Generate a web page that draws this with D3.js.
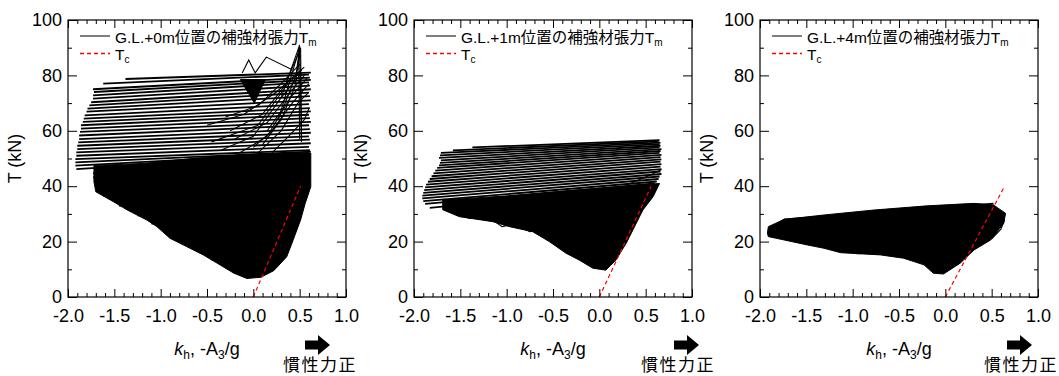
<!DOCTYPE html>
<html>
<head>
<meta charset="utf-8">
<script src="https://cdn.jsdelivr.net/npm/d3@7"></script>
<style>
	body{margin:0;background:#fff;}
	text{font-family:"Liberation Sans",Arial,"Noto Sans CJK JP",sans-serif;fill:#000;}
</style>
</head>
<body>
<script>
// axis ticks
var xTicks = [-2.0, -1.5, -1.0, -0.5, 0.0, 0.5, 1.0];
var xTickLabels = ["-2.0", "-1.5", "-1.0", "-0.5", "0.0", "0.5", "1.0"];
var xMinor = [-1.9,-1.8,-1.7,-1.6,-1.4,-1.3,-1.2,-1.1,-0.9,-0.8,-0.7,-0.6,-0.4,-0.3,-0.2,-0.1,0.1,0.2,0.3,0.4,0.6,0.7,0.8,0.9];
var tTicks = [0, 20, 40, 60, 80, 100];
var tMinor = [10, 30, 50, 70, 90];

// legend texts
var depthLabels = ["G.L.+0m位置の補強材張力T", "G.L.+1m位置の補強材張力T", "G.L.+4m位置の補強材張力T"];

// Tc lines (kh, T)
var tc0 = [[0.0, 0.0], [0.51, 40.0]];
var tc1 = [[0.0, 0.0], [0.56, 40.0]];
var tc4 = [[0.0, 0.0], [0.64, 40.0]];

// dense cores of the loops (kh, T)
var core0 = [[-1.72,47.5],[-1.2,48.2],[-0.5,50.5],[0.0,51.5],[0.62,52.0],[0.62,39.8],[0.56,33.8],[0.51,27.8],[0.43,20.6],[0.36,14.5],[0.22,9.5],[0.08,7.1],[-0.07,6.7],[-0.21,8.6],[-0.39,12.2],[-0.54,15.2],[-0.72,18.2],[-0.90,21.2],[-1.04,25.4],[-1.15,27.8],[-1.36,31.4],[-1.51,34.4],[-1.70,38.0],[-1.72,41.6]];
var core1 = [[-1.69,35.0],[-1.0,36.5],[-0.3,38.5],[0.3,40.0],[0.65,41.0],[0.58,36.2],[0.47,31.4],[0.38,25.4],[0.29,19.4],[0.18,13.4],[0.07,9.7],[-0.07,10.4],[-0.22,13.4],[-0.36,15.8],[-0.54,20.0],[-0.72,23.6],[-0.97,25.4],[-1.15,27.2],[-1.51,29.0],[-1.69,31.5]];
var core4 = [[-1.92,23.0],[-1.91,25.4],[-1.74,28.0],[-1.31,29.6],[-0.77,31.4],[-0.20,32.9],[0.31,33.8],[0.52,33.2],[0.65,30.2],[0.63,26.6],[0.56,23.6],[0.49,20.6],[0.31,17.0],[0.16,12.2],[-0.02,8.3],[-0.13,8.6],[-0.23,11.6],[-0.45,14.0],[-0.70,15.2],[-1.13,16.0],[-1.31,17.6],[-1.49,18.8],[-1.74,20.6],[-1.91,21.8]];

// small filled pockets (kh, T)
var pockets0 = [[[-0.14,78.5],[0.13,78.5],[0.01,70.0]]];
var pockets1 = [];
var pockets4 = [];

// loop strokes: kh left, T left, kh right, T right
var sweeps0 = [
	[-1.38,78.7,0.62,81.0],[-1.62,77.0,0.60,80.3],[-1.73,75.0,0.61,79.2],[-1.72,74.0,0.62,78.4],
	[-1.73,72.8,0.60,77.5],[-1.73,71.6,0.61,76.3],[-1.75,70.3,0.62,75.0],[-1.77,69.2,0.60,73.8],
	[-1.79,68.0,0.61,72.5],[-1.80,66.9,0.62,71.0],[-1.82,65.6,0.60,69.6],[-1.83,64.4,0.61,68.2],
	[-1.84,63.2,0.62,67.0],[-1.86,62.0,0.60,65.8],[-1.86,60.8,0.61,64.6],[-1.87,59.6,0.62,63.2],
	[-1.88,58.3,0.60,62.0],[-1.88,57.0,0.61,60.6],[-1.89,55.8,0.62,59.3],[-1.90,54.6,0.60,58.0],
	[-1.90,53.4,0.61,56.8],[-1.91,52.2,0.62,55.5],[-1.91,51.0,0.60,54.2],[-1.92,49.8,0.61,53.0],
	[-1.92,48.6,0.62,52.5],[-1.92,47.4,0.60,52.0],[-1.91,46.2,0.61,51.5],[-1.73,44.6,0.60,51.0],
	[-1.73,43.2,0.62,50.5],[-1.72,41.8,0.60,50.0],[-1.70,40.2,0.61,49.5],
	[-1.62,36.5,-1.0,37.0],[-1.45,33.0,-0.8,33.5],[-1.25,29.5,-0.6,30.0],[-1.10,26.5,-0.5,27.0],
	[-0.95,23.5,-0.4,24.0],[-0.82,21.0,-0.3,21.5],[-0.75,19.5,-0.3,20.0],[-0.60,16.5,-0.2,17.0],
	[-0.45,13.5,-0.1,14.0]
];
var sweeps1 = [
	[-1.37,54.0,0.65,56.6],[-1.58,52.9,0.64,56.2],[-1.71,52.0,0.66,55.7],[-1.72,51.1,0.65,55.2],
	[-1.73,50.2,0.66,54.6],[-1.71,49.3,0.65,54.0],[-1.72,48.4,0.67,53.4],[-1.73,47.5,0.66,52.7],
	[-1.75,46.6,0.65,52.0],[-1.77,45.6,0.67,51.3],[-1.79,44.6,0.66,50.5],[-1.81,43.6,0.67,49.7],
	[-1.83,42.6,0.66,48.9],[-1.85,41.6,0.67,48.0],[-1.87,40.6,0.66,47.1],[-1.88,39.6,0.67,46.2],
	[-1.89,38.6,0.66,45.3],[-1.90,37.6,0.67,44.4],[-1.91,36.6,0.65,43.5],[-1.91,35.6,0.64,42.6],
	[-1.90,34.6,0.62,41.7],[-1.88,33.6,0.60,41.0],[-1.83,32.2,0.55,40.0]
];
var sweeps4 = [
	[-1.92,23.0,-1.74,28.0],[-1.74,28.0,0.52,33.7],[-1.85,24.5,0.60,31.0],[-1.80,22.5,0.62,28.5]
];

// irregular branches (kh, T)
var branches0 = [
	[[-0.45,56],[0.05,62],[0.35,76],[0.52,82]],
	[[-0.35,53],[0.0,58],[0.3,72],[0.5,80]],
	[[-0.25,60],[0.1,66],[0.38,78],[0.55,83]],
	[[-0.15,52],[0.15,58],[0.4,72],[0.58,79]],
	[[-0.3,65],[0.05,69],[0.3,77],[0.5,84]],
	[[0.0,54],[0.2,60],[0.42,70],[0.6,77]],
	[[-0.5,62],[-0.1,66],[0.25,74],[0.45,80]],
	[[0.05,52],[0.3,60],[0.48,70],[0.6,74]],
	[[-0.2,57],[0.15,63],[0.4,74],[0.55,80]],
	[[0.1,55],[0.3,64],[0.45,76],[0.5,88]],
	[[0.15,60],[0.32,68],[0.46,80],[0.5,90]],
	[[0.2,52],[0.38,58],[0.55,64],[0.6,68]],
	[[0.48,82],[0.5,90.6],[0.52,56]],
	[[0.49,90],[0.5,57]],
	[[0.51,90],[0.52,58]],
	[[0.5,91],[0.3,72]],
	[[0.5,90],[0.27,64]],
	[[0.5,89],[0.36,78]],
	[[-0.12,80.9],[-0.05,85.6],[0.02,80.9],[0.14,86.6],[0.42,82.0]]
];
var branches1 = [
	[[-1.51,29.6],[-1.40,28.4],[-1.33,29.0]],
	[[-1.15,27.8],[-1.05,25.4],[-0.94,26.2]],
	[[-0.90,26.0],[-0.75,23.6],[-0.62,24.4]],
	[[0.30,40.5],[0.55,44.0],[0.67,46.0]]
];
var branches4 = [
	[[-1.90,22.0],[-1.55,20.2],[-1.45,18.8],[-1.10,18.2]],
	[[-1.50,21.0],[-1.30,17.8],[-0.70,15.4]],
	[[-1.15,17.5],[-0.95,15.6],[-0.40,16.5]],
	[[0.50,21.0],[0.60,24.5],[0.64,28.0]]
];

window.onload = function(){
	var w = 1059, h = 376;
	var pw = 278, top = 20, bottom = 297;

	var svg = d3.select("body")
		.append("svg")
		.attr("width", w)
		.attr("height", h)
		.attr("class", "container");

	var panels = [
		{left: 68, label: depthLabels[0], core: core0, pockets: pockets0, sweeps: sweeps0, branches: branches0, tc: tc0, arrowX: 305, noteX: 320},
		{left: 414, label: depthLabels[1], core: core1, pockets: pockets1, sweeps: sweeps1, branches: branches1, tc: tc1, arrowX: 674, noteX: 678},
		{left: 760, label: depthLabels[2], core: core4, pockets: pockets4, sweeps: sweeps4, branches: branches4, tc: tc4, arrowX: 1007, noteX: 1021}
	];

	panels.forEach(function(p){
		var x = d3.scaleLinear()
			.domain([-2, 1])
			.range([p.left, p.left + pw]);
		var y = d3.scaleLinear()
			.domain([0, 100])
			.range([bottom, top]);

		var g = svg.append("g")
			.attr("class", "panel");

		var line = d3.line()
			.x(function(d){ return x(d[0]); })
			.y(function(d){ return y(d[1]); });

		//dense part of the loops
		g.selectAll(".core")
			.data([p.core].concat(p.pockets))
			.enter()
			.append("path")
			.attr("class", "core")
			.attr("d", function(d){ return line(d) + "Z"; })
			.style("fill", "#000")
			.style("stroke", "#000")
			.style("stroke-width", 1);

		g.selectAll(".sweep")
			.data(p.sweeps)
			.enter()
			.append("line")
			.attr("class", "sweep")
			.attr("x1", function(d){ return x(d[0]); })
			.attr("y1", function(d){ return y(d[1]); })
			.attr("x2", function(d){ return x(d[2]); })
			.attr("y2", function(d){ return y(d[3]); })
			.style("stroke", "#000")
			.style("stroke-width", 1.8);

		g.selectAll(".branch")
			.data(p.branches)
			.enter()
			.append("path")
			.attr("class", "branch")
			.attr("d", line)
			.style("fill", "none")
			.style("stroke", "#000")
			.style("stroke-width", 1.1);

		//Tc
		g.append("path")
			.datum(p.tc)
			.attr("class", "tc")
			.attr("d", line)
			.style("fill", "none")
			.style("stroke", "#ff0000")
			.style("stroke-width", 1.2)
			.style("stroke-dasharray", "4,3");

		//axes with inward ticks
		var axes = [
			{ax: d3.axisBottom(x).tickValues(xTicks).tickSize(-8).tickPadding(12).tickFormat(function(d, i){ return xTickLabels[i]; }), t: "translate(0," + bottom + ")"},
			{ax: d3.axisBottom(x).tickValues(xMinor).tickSize(-4).tickFormat(""), t: "translate(0," + bottom + ")"},
			{ax: d3.axisTop(x).tickValues(xTicks).tickSize(-8).tickFormat(""), t: "translate(0," + top + ")"},
			{ax: d3.axisTop(x).tickValues(xMinor).tickSize(-4).tickFormat(""), t: "translate(0," + top + ")"},
			{ax: d3.axisLeft(y).tickValues(tTicks).tickSize(-9).tickPadding(6), t: "translate(" + p.left + ",0)"},
			{ax: d3.axisLeft(y).tickValues(tMinor).tickSize(-4).tickFormat(""), t: "translate(" + p.left + ",0)"},
			{ax: d3.axisRight(y).tickValues(tTicks).tickSize(-9).tickFormat(""), t: "translate(" + (p.left + pw) + ",0)"},
			{ax: d3.axisRight(y).tickValues(tMinor).tickSize(-4).tickFormat(""), t: "translate(" + (p.left + pw) + ",0)"}
		];
		axes.forEach(function(a){
			var ag = g.append("g")
				.attr("class", "axis")
				.attr("transform", a.t)
				.call(a.ax);
			ag.select(".domain").remove();
			ag.selectAll("line").style("stroke", "#000");
			ag.selectAll("text")
				.style("font-size", "18px")
				.style("font-family", "'Liberation Sans', Arial, sans-serif")
				.style("fill", "#000");
		});

		//frame
		g.append("rect")
			.attr("class", "frame")
			.attr("x", p.left)
			.attr("y", top)
			.attr("width", pw)
			.attr("height", bottom - top)
			.style("fill", "none")
			.style("stroke", "#000")
			.style("stroke-width", 1.2);

		//legend
		g.append("line")
			.attr("class", "legendLine")
			.attr("x1", p.left + 12)
			.attr("x2", p.left + 42)
			.attr("y1", 36)
			.attr("y2", 36)
			.style("stroke", "#000")
			.style("stroke-width", 1);
		var lt = g.append("text")
			.attr("x", p.left + 47)
			.attr("y", 42.5)
			.style("font-size", "15.5px")
			.text(p.label);
		lt.append("tspan")
			.attr("dy", 3)
			.style("font-size", "10px")
			.text("m");

		g.append("line")
			.attr("class", "legendLine")
			.attr("x1", p.left + 12)
			.attr("x2", p.left + 42)
			.attr("y1", 53.5)
			.attr("y2", 53.5)
			.style("stroke", "#ff0000")
			.style("stroke-width", 1.4)
			.style("stroke-dasharray", "4,3");
		var ct = g.append("text")
			.attr("x", p.left + 47)
			.attr("y", 60)
			.style("font-size", "15.5px")
			.text("T");
		ct.append("tspan")
			.attr("dy", 3)
			.style("font-size", "10px")
			.text("c");

		//axis titles
		g.append("text")
			.attr("class", "ylabel")
			.attr("text-anchor", "middle")
			.attr("transform", "translate(" + (p.left - 47) + "," + ((top + bottom) / 2) + ") rotate(-90)")
			.style("font-size", "18px")
			.text("T (kN)");

		var xl = g.append("text")
			.attr("class", "xlabel")
			.attr("text-anchor", "middle")
			.attr("x", p.left + pw / 2)
			.attr("y", 355)
			.style("font-size", "18px");
		xl.append("tspan").style("font-style", "italic").text("k");
		xl.append("tspan").attr("dy", 4).style("font-size", "12px").text("h");
		xl.append("tspan").attr("dy", -4).text(", -A");
		xl.append("tspan").attr("dy", 4).style("font-size", "12px").text("3");
		xl.append("tspan").attr("dy", -4).text("/g");

		//inertia arrow
		var ax = p.arrowX;
		g.append("path")
			.attr("class", "arrow")
			.attr("d", "M" + ax + ",340.5 L" + (ax + 13) + ",340.5 L" + (ax + 13) + ",335 L" + (ax + 25) + ",345 L" + (ax + 13) + ",355 L" + (ax + 13) + ",349.5 L" + ax + ",349.5 Z")
			.style("fill", "#000");
		g.append("text")
			.attr("text-anchor", "middle")
			.attr("x", p.noteX)
			.attr("y", 371)
			.style("font-size", "17px")
			.style("letter-spacing", "1.5px")
			.style("font-family", "'Noto Sans CJK JP', sans-serif")
			.text("慣性力正");
	});
};
</script>
</body>
</html>
